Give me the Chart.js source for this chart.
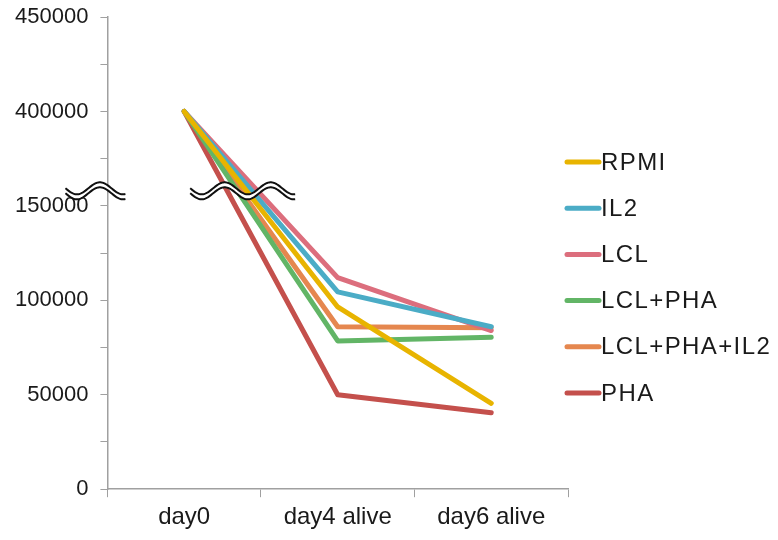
<!DOCTYPE html>
<html>
<head>
<meta charset="utf-8">
<script src="https://cdn.jsdelivr.net/npm/chart.js@4"></script>
<style>
  html, body { margin: 0; padding: 0; background: #fff; }
  #wrap { width: 778px; height: 540px; }
</style>
</head>
<body>
<div id="wrap"><canvas id="chart" width="778" height="540"></canvas></div>
<script>
const days = ["day0", "day4 alive", "day6 alive"];
const rpmi = [400000, 96500, 45500];
const il2 = [400000, 104500, 86000];
const lcl = [400000, 112000, 84000];
const lclPha = [400000, 78500, 80500];
const lclPhaIl2 = [400000, 86000, 85500];
const pha = [400000, 50000, 40500];
const seriesNames = ["RPMI", "IL2", "LCL", "LCL+PHA", "LCL+PHA+IL2", "PHA"];
const seriesColors = ["#E8B400", "#4BACC6", "#DC6E7D", "#62B566", "#E5874F", "#C4504C"];
const yTicks = [0, 50000, 100000, 150000, 400000, 450000];

// the y axis is broken between 150000 and 400000
const breakLow = 150000, breakHigh = 400000, gap = breakHigh - breakLow - 50000;
const squash = v => (v >= breakHigh ? v - gap : v);
const unsquash = v => (v > breakLow ? v + gap : v);

const allSeries = [rpmi, il2, lcl, lclPha, lclPhaIl2, pha];

const datasets = allSeries.map((vals, i) => ({
  label: seriesNames[i],
  data: vals.map(squash),
  borderColor: seriesColors[i],
  backgroundColor: seriesColors[i],
  borderWidth: 5,
  pointRadius: 0,
  borderCapStyle: "round",
  borderJoinStyle: "round",
  tension: 0
}));

function wave(ctx, x0, x1, yc, amp, period) {
  ctx.moveTo(x0, yc);
  for (let x = x0; x <= x1; x += 1) {
    ctx.lineTo(x, yc + amp * Math.sin(2 * Math.PI * (x - x0) / period));
  }
}

const breakMarks = {
  id: "breakMarks",
  afterDatasetsDraw(chart) {
    const ctx = chart.ctx;
    const y = chart.scales.y.getPixelForValue(158000);
    const axisX = chart.chartArea.left;
    const x0 = chart.scales.x.getPixelForValue(0);
    const spans = [[axisX - 42, axisX + 18], [x0 + 6, x0 + 111]];
    ctx.save();
    spans.forEach(([a, b]) => {
      // white band between the two wavy lines
      ctx.beginPath();
      for (let x = a; x <= b; x++) ctx.lineTo(x, y - 2.5 + 6 * Math.sin(2 * Math.PI * (x - a) / 46));
      for (let x = b; x >= a; x--) ctx.lineTo(x, y + 2.5 + 6 * Math.sin(2 * Math.PI * (x - a) / 46));
      ctx.closePath();
      ctx.fillStyle = "#fff";
      ctx.fill();
      ctx.strokeStyle = "#111";
      ctx.lineWidth = 2;
      ctx.beginPath();
      wave(ctx, a, b, y - 2.5, 6, 46);
      ctx.stroke();
      ctx.beginPath();
      wave(ctx, a, b, y + 2.5, 6, 46);
      ctx.stroke();
    });
    ctx.restore();
  }
};

const sideLegend = {
  id: "sideLegend",
  afterDraw(chart) {
    const ctx = chart.ctx;
    const left = chart.chartArea.right - 3;
    ctx.save();
    ctx.font = "24px 'Liberation Sans', Arial, sans-serif";
    ctx.letterSpacing = "1.4px";
    ctx.textBaseline = "middle";
    ctx.fillStyle = "#1a1a1a";
    chart.data.datasets.forEach((ds, i) => {
      const y = 162 + i * 46.2;
      ctx.strokeStyle = ds.borderColor;
      ctx.lineWidth = 5;
      ctx.lineCap = "round";
      ctx.beginPath();
      ctx.moveTo(left + 2, y);
      ctx.lineTo(left + 34, y);
      ctx.stroke();
      ctx.fillText(ds.label, left + 36, y + 1);
    });
    ctx.restore();
  }
};

new Chart(document.getElementById("chart"), {
  type: "line",
  data: { labels: days, datasets: datasets },
  options: {
    responsive: false,
    animation: false,
    layout: { padding: { top: 17, right: 210, bottom: 2, left: 3 } },
    plugins: {
      legend: { display: false },
      tooltip: { enabled: false }
    },
    scales: {
      x: {
        offset: true,
        grid: { offset: true, drawOnChartArea: false, drawTicks: true, tickLength: 8, color: "#a0a0a0" },
        border: { color: "#a0a0a0", width: 1.5 },
        ticks: { color: "#1a1a1a", padding: 6, font: { size: 24, family: "'Liberation Sans', Arial, sans-serif" } }
      },
      y: {
        min: 0,
        max: squash(450000),
        afterBuildTicks(scale) {
          const t = [];
          for (let v = 0; v <= squash(450000); v += 25000) t.push({ value: v });
          scale.ticks = t;
        },
        afterFit(scale) {
          scale.paddingTop = 0;
        },
        grid: { drawOnChartArea: false, drawTicks: true, tickLength: 7, color: "#a0a0a0" },
        border: { color: "#a0a0a0", width: 1.5 },
        ticks: {
          color: "#1a1a1a",
          padding: 12,
          font: { size: 22, family: "'Liberation Sans', Arial, sans-serif" },
          callback: v => (yTicks.includes(unsquash(v)) ? String(unsquash(v)) : "")
        }
      }
    }
  },
  plugins: [breakMarks, sideLegend]
});
</script>
</body>
</html>
